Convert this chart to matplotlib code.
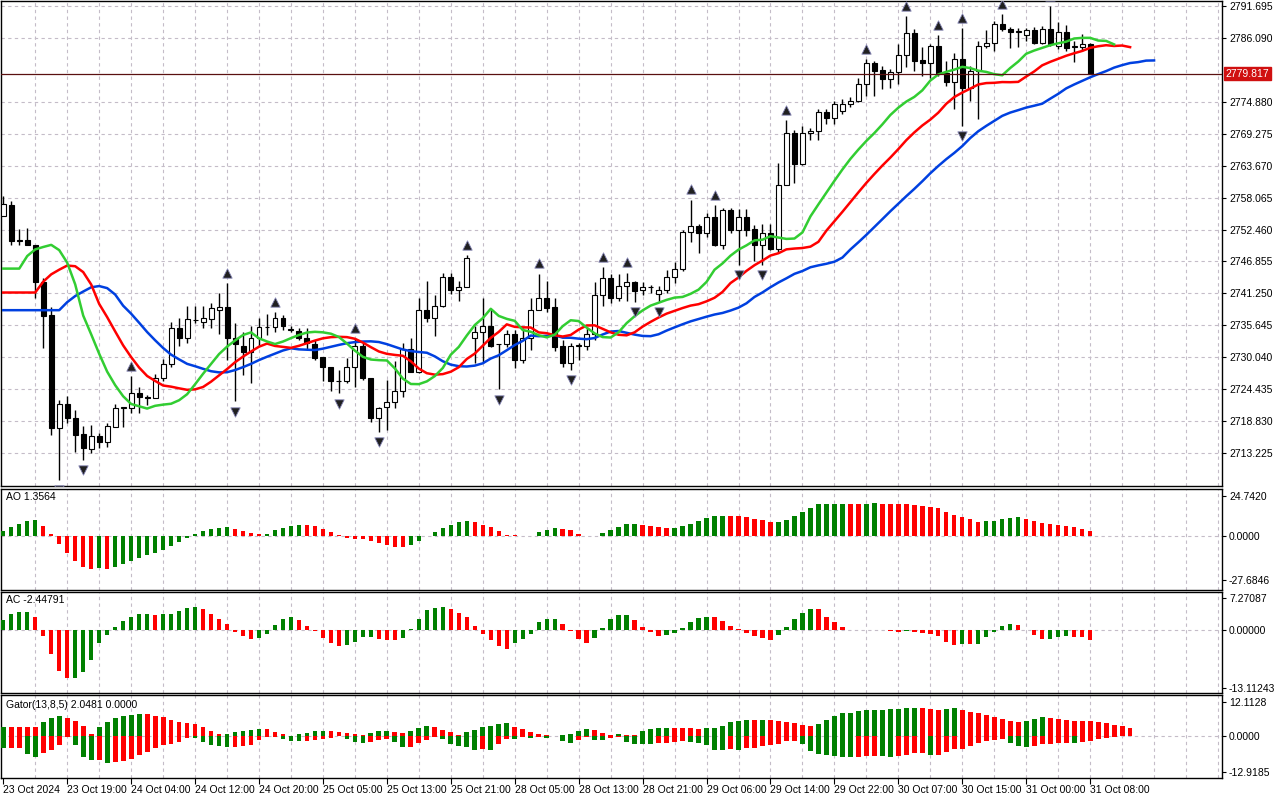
"""XAUUSD H1 chart with Alligator, Fractals, AO, AC and Gator panels (MT5 style)."""

import numpy as np
import pandas as pd
import matplotlib
matplotlib.use("Agg")
import matplotlib.pyplot as plt

plt.rcParams["font.family"] = ["Liberation Sans", "DejaVu Sans"]

# Candles (price).
opens = [2754.9, 2756.8, 2750.4, 2750.7, 2749.8, 2743.3, 2737.4, 2717.6, 2721.8, 2719.3,
         2716.5, 2713.9, 2716.2, 2715.1, 2717.8, 2721.1, 2721.1, 2723.7, 2723.0, 2722.8,
         2726.4, 2728.8, 2735.1, 2733.4, 2736.5, 2736.3, 2736.7, 2738.4, 2738.8, 2733.5,
         2732.1, 2730.9, 2733.5, 2735.3, 2735.3, 2737.0, 2734.8, 2734.6, 2733.5, 2732.3,
         2730.0, 2728.3, 2725.8, 2725.8, 2728.3, 2732.1, 2726.4, 2719.3, 2721.3, 2722.1,
         2724.2, 2731.4, 2727.4, 2738.4, 2737.0, 2739.0, 2744.2, 2741.9, 2742.3, 2733.5,
         2734.4, 2735.5, 2732.3, 2732.3, 2734.1, 2729.5, 2733.4, 2738.4, 2740.5, 2738.8,
         2732.0, 2729.0, 2732.1, 2732.1, 2734.2, 2740.9, 2744.0, 2740.5, 2742.6, 2743.2,
         2741.9, 2742.3, 2741.2, 2741.9, 2744.2, 2745.6, 2752.1, 2753.0, 2751.8, 2754.7,
         2749.7, 2755.8, 2752.3, 2754.6, 2752.5, 2749.7, 2751.8, 2749.1, 2760.3, 2769.4,
         2764.0, 2769.4, 2769.8, 2773.0, 2772.1, 2773.3, 2774.5, 2775.1, 2778.0, 2781.7,
         2780.5, 2778.9, 2780.1, 2783.1, 2787.0, 2782.2, 2781.7, 2784.7, 2780.0, 2778.4,
         2782.4, 2777.3, 2780.3, 2784.7, 2785.2, 2788.5, 2787.7, 2787.1, 2786.6, 2787.5,
         2785.2, 2787.7, 2784.7, 2787.1, 2784.5, 2784.5, 2785.0]
highs = [2758.4, 2757.5, 2752.5, 2752.8, 2749.8, 2744.0, 2738.8, 2722.5, 2723.2, 2720.7,
         2717.9, 2718.1, 2716.7, 2718.5, 2721.8, 2721.1, 2726.7, 2724.9, 2723.4, 2727.1,
         2729.7, 2736.3, 2736.9, 2739.0, 2739.1, 2739.1, 2739.5, 2741.4, 2743.0, 2736.0,
         2734.4, 2735.6, 2737.0, 2737.7, 2737.9, 2737.4, 2735.6, 2735.1, 2735.1, 2733.0,
         2730.0, 2728.3, 2727.8, 2729.9, 2733.4, 2732.5, 2726.4, 2721.3, 2726.0, 2729.3,
         2732.5, 2733.5, 2740.5, 2743.5, 2740.9, 2744.9, 2744.9, 2743.5, 2747.9, 2735.6,
         2740.4, 2738.3, 2732.3, 2734.8, 2734.8, 2735.1, 2740.4, 2744.7, 2743.5, 2740.5,
         2733.0, 2732.5, 2732.5, 2735.1, 2743.3, 2745.8, 2744.7, 2744.7, 2744.9, 2743.5,
         2743.3, 2742.8, 2742.5, 2745.3, 2746.7, 2752.3, 2757.7, 2753.5, 2755.4, 2756.8,
         2756.3, 2756.3, 2756.1, 2756.1, 2753.2, 2753.5, 2753.5, 2764.2, 2771.7, 2770.0,
         2770.7, 2770.3, 2773.7, 2773.7, 2775.1, 2775.4, 2775.8, 2779.1, 2782.4, 2782.1,
         2781.2, 2780.7, 2785.0, 2789.9, 2787.7, 2784.5, 2785.0, 2786.6, 2782.1, 2783.5,
         2787.8, 2781.2, 2785.6, 2787.5, 2789.1, 2790.3, 2788.0, 2787.8, 2787.8, 2788.0,
         2788.2, 2791.7, 2788.9, 2788.4, 2785.6, 2786.8, 2785.2]
lows = [2754.9, 2749.7, 2749.7, 2749.7, 2740.5, 2731.6, 2716.4, 2708.5, 2718.5, 2713.4,
        2712.0, 2713.2, 2714.1, 2714.3, 2717.8, 2717.8, 2720.2, 2720.2, 2721.6, 2722.8,
        2725.8, 2728.3, 2732.1, 2732.5, 2736.0, 2735.1, 2735.1, 2734.2, 2729.5, 2722.3,
        2726.9, 2725.5, 2732.1, 2733.9, 2734.4, 2734.8, 2734.4, 2733.0, 2731.3, 2729.5,
        2725.8, 2724.1, 2723.7, 2725.6, 2724.8, 2726.0, 2718.6, 2716.9, 2717.2, 2721.1,
        2723.0, 2727.4, 2727.2, 2736.2, 2733.7, 2738.8, 2741.2, 2740.0, 2742.3, 2729.0,
        2729.0, 2731.8, 2724.4, 2731.8, 2728.1, 2729.0, 2731.3, 2738.3, 2737.9, 2731.1,
        2728.3, 2727.8, 2729.5, 2731.3, 2733.0, 2739.0, 2739.5, 2740.0, 2740.0, 2739.8,
        2740.9, 2741.4, 2739.7, 2741.4, 2743.0, 2745.1, 2750.2, 2748.4, 2751.2, 2749.5,
        2749.1, 2751.8, 2746.2, 2751.4, 2747.0, 2746.2, 2748.8, 2748.3, 2760.3, 2760.7,
        2763.7, 2768.2, 2768.2, 2770.9, 2771.0, 2772.8, 2774.0, 2774.9, 2775.9, 2775.9,
        2777.2, 2777.3, 2778.0, 2781.0, 2780.3, 2779.4, 2779.1, 2779.4, 2777.7, 2773.6,
        2770.7, 2775.1, 2771.9, 2784.3, 2783.8, 2787.3, 2784.3, 2784.5, 2785.6, 2785.0,
        2785.0, 2784.7, 2784.2, 2783.8, 2781.9, 2783.8, 2779.8]
closes = [2757.0, 2750.4, 2750.7, 2749.8, 2743.2, 2737.2, 2717.6, 2721.8, 2719.3, 2716.4,
          2714.1, 2716.2, 2715.1, 2717.9, 2721.1, 2721.1, 2723.7, 2723.0, 2722.8, 2726.4,
          2728.8, 2735.1, 2733.4, 2736.7, 2736.5, 2736.9, 2738.6, 2738.8, 2733.5, 2732.3,
          2730.9, 2733.5, 2735.3, 2735.3, 2736.9, 2735.5, 2734.8, 2733.5, 2732.5, 2729.9,
          2728.3, 2725.8, 2725.8, 2728.3, 2732.1, 2726.4, 2719.3, 2721.1, 2722.1, 2724.2,
          2731.4, 2727.4, 2738.4, 2737.0, 2739.1, 2744.2, 2741.9, 2742.3, 2747.4, 2734.4,
          2735.5, 2732.1, 2732.3, 2734.1, 2729.5, 2733.4, 2738.4, 2740.5, 2738.6, 2731.8,
          2729.0, 2732.1, 2732.1, 2734.2, 2740.9, 2744.0, 2740.5, 2742.6, 2743.2, 2741.6,
          2742.3, 2742.3, 2741.9, 2744.2, 2745.6, 2752.1, 2753.0, 2751.8, 2754.7, 2749.7,
          2755.8, 2752.3, 2754.6, 2752.3, 2749.7, 2751.8, 2749.1, 2760.3, 2769.4, 2764.0,
          2769.4, 2769.8, 2773.0, 2772.1, 2774.5, 2774.5, 2775.1, 2778.0, 2781.7, 2780.3,
          2778.9, 2780.1, 2783.1, 2787.0, 2782.1, 2781.7, 2784.7, 2780.0, 2778.4, 2782.4,
          2777.3, 2780.3, 2784.7, 2785.2, 2788.5, 2787.7, 2787.1, 2787.1, 2787.5, 2785.2,
          2787.7, 2785.0, 2787.1, 2784.3, 2784.5, 2785.0, 2779.817]

# Alligator starting levels (lines already running at the left edge)
jaw_seed, teeth_seed, lips_seed = 2738.3, 2741.4, 2745.6
history_level = 2740.0  # rough median price before the first visible bar

price_ticks = [2791.695, 2786.090, 2774.880, 2769.275, 2763.670, 2758.065, 2752.460,
               2746.855, 2741.250, 2735.645, 2730.040, 2724.435, 2718.830, 2713.225]
last_price = 2779.817
time_labels = ["23 Oct 2024", "23 Oct 19:00", "24 Oct 04:00", "24 Oct 12:00", "24 Oct 20:00",
               "25 Oct 05:00", "25 Oct 13:00", "25 Oct 21:00", "28 Oct 05:00", "28 Oct 13:00",
               "28 Oct 21:00", "29 Oct 06:00", "29 Oct 14:00", "29 Oct 22:00", "30 Oct 07:00",
               "30 Oct 15:00", "31 Oct 00:00", "31 Oct 08:00"]
ao_ticks = [24.7420, 0.0, -27.6846]
ac_ticks = [7.27087, 0.0, -13.11243]
gator_ticks = [12.1128, 0.0, -12.9185]

o = np.array(opens); h = np.array(highs); l = np.array(lows); c = np.array(closes)
n = len(c)
x = np.arange(n)
median = (h + l) / 2


def smma(values, period, seed):
    out = []
    prev = seed
    for v in values:
        prev = (prev * (period - 1) + v) / period
        out.append(prev)
    return np.array(out)


def shifted(line, shift, seed):
    full = np.full(n + shift, np.nan)
    full[:shift] = seed
    full[shift:] = line
    return full


jaw = shifted(smma(median, 13, jaw_seed), 8, jaw_seed)
teeth = shifted(smma(median, 8, teeth_seed), 5, teeth_seed)
lips = shifted(smma(median, 5, lips_seed), 3, lips_seed)

med_ext = pd.Series(np.concatenate([np.full(34, history_level), median]))
ao = (med_ext.rolling(5).mean() - med_ext.rolling(34).mean()).fillna(0)
ac = (ao - ao.rolling(5).mean()).fillna(0)
ao = ao.values[34:]
ac = ac.values[34:]

gx_up = np.arange(n + 5)
g_up = np.abs(jaw[:n + 5] - teeth[:n + 5])
gx_dn = np.arange(n + 3)
g_dn = -np.abs(teeth[:n + 3] - lips[:n + 3])

GREEN = "#008000"
RED = "#ff0000"
GRID = "#c4bcc8"
FS = 7.5

fig = plt.figure(figsize=(12.8, 8.0), dpi=100)
W = 1222 / 1280


def panel(top_px, bot_px):
    return fig.add_axes([0.001, 1 - bot_px / 800, W - 0.001, (bot_px - top_px) / 800])


ax = panel(1, 486)
ax_ao = panel(489, 590)
ax_ac = panel(592, 693)
ax_g = panel(695, 778)
axes = [ax, ax_ao, ax_ac, ax_g]

for a in axes:
    a.set_xlim(-0.25, 152.5)
    a.set_facecolor("white")
    for s in a.spines.values():
        s.set_color("black")
        s.set_linewidth(1)
    a.yaxis.tick_right()
    a.tick_params(axis="y", length=3, labelsize=FS, pad=2, direction="out")
    a.tick_params(axis="x", length=0, labelbottom=False)
    for gx in range(4, 153, 4):
        a.axvline(gx, color=GRID, lw=0.8, ls=(0, (3, 3)), zorder=0)

# main price panel
ax.set_ylim(2707.44, 2792.57)
ax.set_yticks(price_ticks)
ax.set_yticklabels([f"{v:.3f}" for v in price_ticks])
for v in price_ticks:
    ax.axhline(v, color=GRID, lw=0.8, ls=(0, (3, 3)), zorder=0)

ax.vlines(x, l, h, color="black", lw=1, zorder=3)
body_lo = np.minimum(o, c)
body_h = np.maximum(np.abs(c - o), 0.12)
ax.bar(x, body_h, 0.62, bottom=body_lo, color=np.where(c >= o, "white", "black"),
       edgecolor="black", lw=0.8, zorder=4)

ax.plot(np.arange(n + 8), jaw, color="#0040e0", lw=1.8, zorder=5)
ax.plot(np.arange(n + 5), teeth, color="#ff0000", lw=1.8, zorder=5)
ax.plot(np.arange(n + 3), lips, color="#32cd32", lw=1.8, zorder=5)

up_idx = [i for i in range(2, n - 2) if h[i] > max(h[i - 2], h[i - 1], h[i + 1], h[i + 2])]
dn_idx = [i for i in range(2, n - 2) if l[i] < min(l[i - 2], l[i - 1], l[i + 1], l[i + 2])]
ax.scatter(up_idx, h[up_idx] + 1.8, marker="^", s=45, color="#202020",
           edgecolor="#8080b0", lw=0.6, zorder=6)
ax.scatter(dn_idx, l[dn_idx] - 1.8, marker="v", s=45, color="#202020",
           edgecolor="#8080b0", lw=0.6, zorder=6)

ax.axhline(last_price, color="#5a1010", lw=0.9, zorder=5)
ax.text(1.003, last_price, f"{last_price:.3f}", transform=ax.get_yaxis_transform(),
        va="center", ha="left", fontsize=FS, color="white", clip_on=False,
        bbox=dict(boxstyle="square,pad=0.15", fc="#d01010", ec="#d01010"))


def osc_colors(vals):
    cols = [GREEN]
    for i in range(1, len(vals)):
        cols.append(GREEN if vals[i] > vals[i - 1] else RED)
    return cols


def osc_panel(a, vals, ticks, ylim, title, fmt):
    a.bar(x, vals, 0.55, color=osc_colors(vals), zorder=3)
    a.set_ylim(*ylim)
    a.set_yticks(ticks)
    a.set_yticklabels([fmt.format(t) for t in ticks])
    a.axhline(0, color=GRID, lw=0.8, ls=(0, (3, 3)), zorder=0)
    a.text(0.004, 0.97, title, transform=a.transAxes, va="top", ha="left", fontsize=FS)


osc_panel(ax_ao, ao, ao_ticks, (-33.9, 29.1), "AO 1.3564", "{:.4f}")
osc_panel(ax_ac, ac, ac_ticks, (-14.25, 8.63), "AC -2.44791", "{:.5f}")

# gator
up_cols = [GREEN] + [GREEN if g_up[i] > g_up[i - 1] else RED for i in range(1, len(g_up))]
dn_cols = [GREEN] + [GREEN if abs(g_dn[i]) > abs(g_dn[i - 1]) else RED for i in range(1, len(g_dn))]
ax_g.bar(gx_up, g_up, 0.6, color=up_cols, zorder=3)
ax_g.bar(gx_dn, g_dn, 0.6, color=dn_cols, zorder=3)
ax_g.set_ylim(-15.06, 14.6)
ax_g.set_yticks(gator_ticks)
ax_g.set_yticklabels([f"{t:.4f}" for t in gator_ticks])
ax_g.axhline(0, color=GRID, lw=0.8, ls=(0, (3, 3)), zorder=0)
ax_g.text(0.004, 0.94, "Gator(13,8,5) 2.0481 0.0000", transform=ax_g.transAxes,
          va="top", ha="left", fontsize=FS)

ax_g.set_xticks(np.arange(0, 8 * len(time_labels), 8))
ax_g.set_xticklabels(time_labels, ha="left", fontsize=FS)
ax_g.tick_params(axis="x", length=4, labelbottom=True, pad=1, direction="out")

fig.savefig("out.png", dpi=100, facecolor="white")
